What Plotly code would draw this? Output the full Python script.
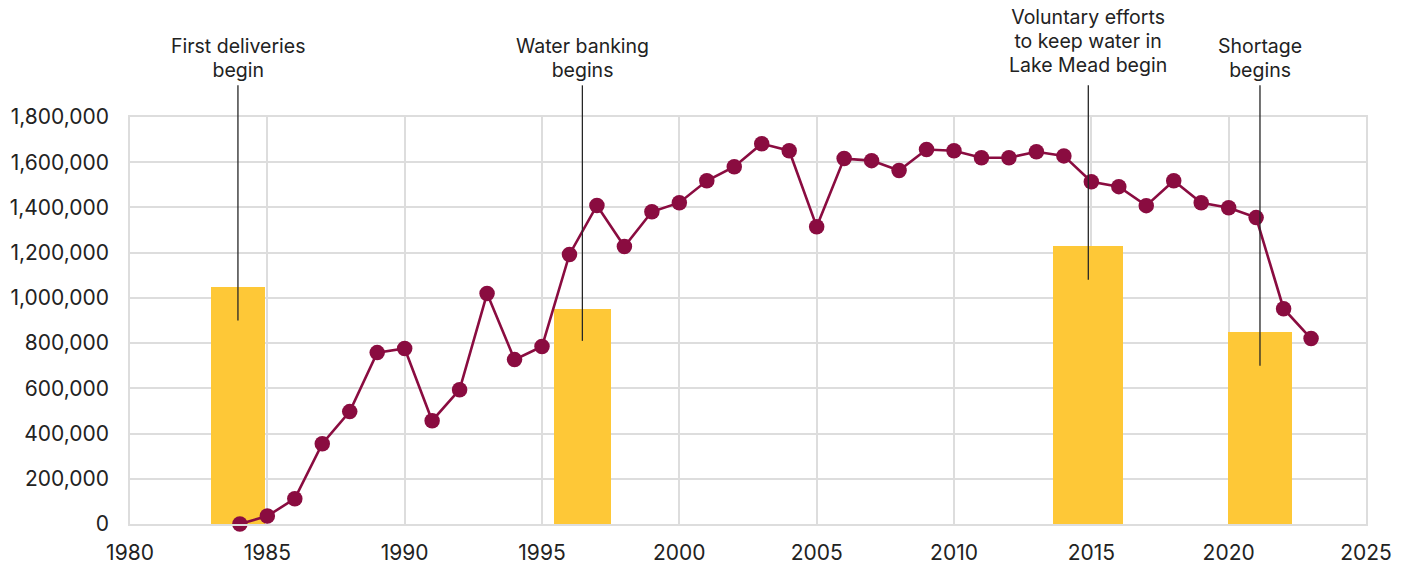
import plotly.graph_objects as go

# ---- data ----
years = list(range(1984, 2024))
deliveries = [
    0, 35000, 112000, 355000, 497000, 758000, 776000, 457000, 594000, 1019000,
    727000, 785000, 1192000, 1409000, 1227000, 1381000, 1421000, 1518000, 1580000, 1682000,
    1651000, 1315000, 1616000, 1607000, 1563000, 1656000, 1651000, 1620000, 1620000, 1646000,
    1628000, 1514000, 1492000, 1408000, 1518000, 1421000, 1399000, 1355000, 952000, 820000,
]

event_labels = [
    ["First deliveries", "begin"],
    ["Water banking", "begins"],
    ["Voluntary efforts", "to keep water in", "Lake Mead begin"],
    ["Shortage", "begins"],
]
bar_centers = [1983.93, 1996.47, 2014.89, 2021.14]
bar_widths = [1.96, 2.07, 2.56, 2.34]
bar_heights = [1050000, 950000, 1230000, 850000]
leader_bottoms = [900000, 810000, 1080000, 700000]
leader_top = 1940000

x_ticks = [1980, 1985, 1990, 1995, 2000, 2005, 2010, 2015, 2020, 2025]
y_ticks = [0, 200000, 400000, 600000, 800000, 1000000, 1200000, 1400000, 1600000, 1800000]

# ---- styling ----
W, H = 1408, 565
ML, MR, MT, MB = 130, 42, 117, 41
PLOT_H = H - MT - MB
YMAX = 1800000
FONT = "Inter"
FS_TICK = 21
FS_ANN = 19.5
FS_LEAD = 18.3   # controls line pitch (1.3em) of the multi-line labels
TXT = "#222222"
GRID = "#dddddd"
LINE_C = "#8A0C40"
BAR_C = "#FEC837"

fig = go.Figure()
fig.add_trace(go.Bar(
    x=bar_centers, y=bar_heights, width=bar_widths,
    marker=dict(color=BAR_C, line=dict(width=0)),
    hoverinfo="skip", showlegend=False,
))
fig.add_trace(go.Scatter(
    x=years, y=deliveries, mode="lines+markers",
    line=dict(color=LINE_C, width=2.6),
    marker=dict(size=15.5, color=LINE_C),
    cliponaxis=False, showlegend=False,
))

# leader lines
for xc, yb in zip(bar_centers, leader_bottoms):
    fig.add_shape(type="line", xref="x", yref="paper",
                  x0=xc, x1=xc, y0=yb / YMAX, y1=leader_top / YMAX,
                  line=dict(color="#262626", width=1.3), layer="above")


def px_to_paper(py):
    return (H - MB - py) / PLOT_H


for xc, lines in zip(bar_centers, event_labels):
    center_px = 41.5 if len(lines) == 3 else 58.5
    text = "<br>".join(f'<span style="font-size:{FS_ANN}px">{t}</span>' for t in lines)
    fig.add_annotation(x=xc, xref="x", y=px_to_paper(center_px), yref="paper",
                       text=text, showarrow=False, xanchor="center", yanchor="middle",
                       align="center",
                       font=dict(family=FONT, size=FS_LEAD, color=TXT))

fig.update_layout(
    width=W, height=H,
    margin=dict(l=ML, r=MR, t=MT, b=MB, autoexpand=False),
    paper_bgcolor="white", plot_bgcolor="white",
    font=dict(family=FONT, size=FS_TICK, color=TXT),
    bargap=0,
)
fig.update_xaxes(
    range=[1980, 2025], tickvals=x_ticks, ticktext=[str(v) for v in x_ticks],
    showgrid=True, gridcolor=GRID, gridwidth=1.5,
    showline=True, mirror=True, linecolor=GRID, linewidth=1.5,
    zeroline=False, ticks="", ticklabelstandoff=9, automargin=False,
    tickfont=dict(family=FONT, size=FS_TICK, color=TXT),
)
fig.update_yaxes(
    range=[0, YMAX], tickvals=y_ticks, tickformat=",",
    showgrid=True, gridcolor=GRID, gridwidth=1.5,
    showline=True, mirror=True, linecolor=GRID, linewidth=1.5,
    zeroline=False, ticks="", ticklabelstandoff=15, automargin=False,
    tickfont=dict(family=FONT, size=FS_TICK, color=TXT),
)

fig.write_html("out.html")
